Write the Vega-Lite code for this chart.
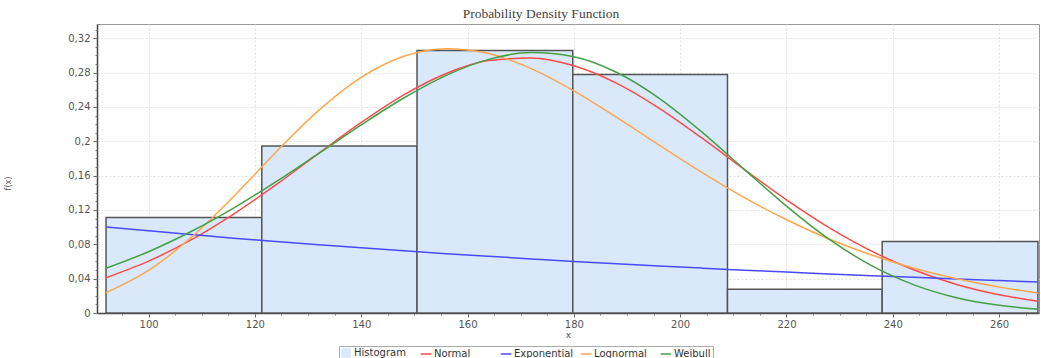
{
  "$schema": "https://vega.github.io/schema/vega-lite/v6.json",
  "width": 942,
  "height": 289,
  "autosize": {"type": "none"},
  "padding": {"left": 97, "top": 24, "right": 2, "bottom": 45},
  "background": "white",
  "title": {"text": "Probability Density Function", "font": "Liberation Serif", "fontSize": 13.5, "fontWeight": "normal", "color": "#444", "offset": 4, "dx": -27},
  "datasets": {
    "bars": [
      {"lo": 92.0, "hi": 121.3, "freq": 0.1111},
      {"lo": 121.3, "hi": 150.5, "freq": 0.1944},
      {"lo": 150.5, "hi": 179.8, "freq": 0.3056},
      {"lo": 179.8, "hi": 208.9, "freq": 0.2778},
      {"lo": 208.9, "hi": 238.0, "freq": 0.0278},
      {"lo": 238.0, "hi": 267.3, "freq": 0.0833}
    ],
    "curves": [
      {"dist": "Normal", "x": 92, "f": 0.0411}, {"dist": "Normal", "x": 100, "f": 0.0604}, {"dist": "Normal", "x": 108, "f": 0.0851}, {"dist": "Normal", "x": 116, "f": 0.1152}, {"dist": "Normal", "x": 124, "f": 0.1494}, {"dist": "Normal", "x": 132, "f": 0.1859}, {"dist": "Normal", "x": 140, "f": 0.2219}, {"dist": "Normal", "x": 148, "f": 0.2541}, {"dist": "Normal", "x": 156, "f": 0.2790}, {"dist": "Normal", "x": 164, "f": 0.2940}, {"dist": "Normal", "x": 172, "f": 0.2970}, {"dist": "Normal", "x": 180, "f": 0.2879}, {"dist": "Normal", "x": 188, "f": 0.2677}, {"dist": "Normal", "x": 196, "f": 0.2387}, {"dist": "Normal", "x": 204, "f": 0.2042}, {"dist": "Normal", "x": 212, "f": 0.1675}, {"dist": "Normal", "x": 220, "f": 0.1318}, {"dist": "Normal", "x": 228, "f": 0.0995}, {"dist": "Normal", "x": 236, "f": 0.0721}, {"dist": "Normal", "x": 244, "f": 0.0501}, {"dist": "Normal", "x": 252, "f": 0.0333}, {"dist": "Normal", "x": 260, "f": 0.0213}, {"dist": "Normal", "x": 267.3, "f": 0.0137},
      {"dist": "Exponential", "x": 92, "f": 0.1003}, {"dist": "Exponential", "x": 100, "f": 0.0957}, {"dist": "Exponential", "x": 108, "f": 0.0914}, {"dist": "Exponential", "x": 116, "f": 0.0872}, {"dist": "Exponential", "x": 124, "f": 0.0833}, {"dist": "Exponential", "x": 132, "f": 0.0795}, {"dist": "Exponential", "x": 140, "f": 0.0759}, {"dist": "Exponential", "x": 148, "f": 0.0724}, {"dist": "Exponential", "x": 156, "f": 0.0691}, {"dist": "Exponential", "x": 164, "f": 0.0660}, {"dist": "Exponential", "x": 172, "f": 0.0630}, {"dist": "Exponential", "x": 180, "f": 0.0601}, {"dist": "Exponential", "x": 188, "f": 0.0574}, {"dist": "Exponential", "x": 196, "f": 0.0548}, {"dist": "Exponential", "x": 204, "f": 0.0523}, {"dist": "Exponential", "x": 212, "f": 0.0499}, {"dist": "Exponential", "x": 220, "f": 0.0477}, {"dist": "Exponential", "x": 228, "f": 0.0455}, {"dist": "Exponential", "x": 236, "f": 0.0434}, {"dist": "Exponential", "x": 244, "f": 0.0415}, {"dist": "Exponential", "x": 252, "f": 0.0396}, {"dist": "Exponential", "x": 260, "f": 0.0378}, {"dist": "Exponential", "x": 267.3, "f": 0.0362},
      {"dist": "Lognormal", "x": 92, "f": 0.0236}, {"dist": "Lognormal", "x": 100, "f": 0.0496}, {"dist": "Lognormal", "x": 108, "f": 0.0879}, {"dist": "Lognormal", "x": 116, "f": 0.1358}, {"dist": "Lognormal", "x": 124, "f": 0.1876}, {"dist": "Lognormal", "x": 132, "f": 0.2360}, {"dist": "Lognormal", "x": 140, "f": 0.2745}, {"dist": "Lognormal", "x": 148, "f": 0.2990}, {"dist": "Lognormal", "x": 156, "f": 0.3079}, {"dist": "Lognormal", "x": 164, "f": 0.3022}, {"dist": "Lognormal", "x": 172, "f": 0.2846}, {"dist": "Lognormal", "x": 180, "f": 0.2587}, {"dist": "Lognormal", "x": 188, "f": 0.2280}, {"dist": "Lognormal", "x": 196, "f": 0.1957}, {"dist": "Lognormal", "x": 204, "f": 0.1640}, {"dist": "Lognormal", "x": 212, "f": 0.1346}, {"dist": "Lognormal", "x": 220, "f": 0.1086}, {"dist": "Lognormal", "x": 228, "f": 0.0862}, {"dist": "Lognormal", "x": 236, "f": 0.0675}, {"dist": "Lognormal", "x": 244, "f": 0.0521}, {"dist": "Lognormal", "x": 252, "f": 0.0399}, {"dist": "Lognormal", "x": 260, "f": 0.0302}, {"dist": "Lognormal", "x": 267.3, "f": 0.0233},
      {"dist": "Weibull", "x": 92, "f": 0.0521}, {"dist": "Weibull", "x": 100, "f": 0.0714}, {"dist": "Weibull", "x": 108, "f": 0.0949}, {"dist": "Weibull", "x": 116, "f": 0.1222}, {"dist": "Weibull", "x": 124, "f": 0.1529}, {"dist": "Weibull", "x": 132, "f": 0.1858}, {"dist": "Weibull", "x": 140, "f": 0.2191}, {"dist": "Weibull", "x": 148, "f": 0.2504}, {"dist": "Weibull", "x": 156, "f": 0.2768}, {"dist": "Weibull", "x": 164, "f": 0.2954}, {"dist": "Weibull", "x": 172, "f": 0.3033}, {"dist": "Weibull", "x": 180, "f": 0.2985}, {"dist": "Weibull", "x": 188, "f": 0.2804}, {"dist": "Weibull", "x": 196, "f": 0.2504}, {"dist": "Weibull", "x": 204, "f": 0.2113}, {"dist": "Weibull", "x": 212, "f": 0.1676}, {"dist": "Weibull", "x": 220, "f": 0.1245}, {"dist": "Weibull", "x": 228, "f": 0.0860}, {"dist": "Weibull", "x": 236, "f": 0.0552}, {"dist": "Weibull", "x": 244, "f": 0.0328}, {"dist": "Weibull", "x": 252, "f": 0.0178}, {"dist": "Weibull", "x": 260, "f": 0.0090}, {"dist": "Weibull", "x": 267.3, "f": 0.0045}
    ]
  },
  "layer": [
    {
      "data": {"name": "bars"},
      "mark": {"type": "rect", "fill": "#d9e9fb", "stroke": "#555", "strokeWidth": 1.5},
      "encoding": {
        "x": {"field": "lo", "type": "quantitative", "scale": {"domain": [90.3, 267.5], "nice": false, "zero": false},
              "axis": {"values": [100, 120, 140, 160, 180, 200, 220, 240, 260], "title": "x", "titleFontSize": 9, "titleFontWeight": "normal", "titleColor": "#555", "titlePadding": 1, "grid": true, "gridColor": "#e2e2e2", "gridDash": [2, 2], "tickSize": 4, "labelFontSize": 10, "labelColor": "#555", "labelPadding": 2, "domainColor": "#444", "domainWidth": 1.5, "tickColor": "#666"}},
        "x2": {"field": "hi"},
        "y": {"field": "freq", "type": "quantitative", "scale": {"domain": [0, 0.3366], "nice": false},
              "axis": {"values": [0, 0.04, 0.08, 0.12, 0.16, 0.2, 0.24, 0.28, 0.32], "labelExpr": "replace(format(datum.value, '.2~f'), '.', ',')", "title": "f(x)", "titleFontSize": 8, "titleFontWeight": "normal", "titleColor": "#555", "titleX": -85, "titleY": 159, "grid": true, "gridColor": "#e2e2e2", "gridDash": [2, 2], "tickSize": 4, "labelFontSize": 10, "labelColor": "#555", "labelPadding": 3, "domainColor": "#444", "domainWidth": 1.5, "tickColor": "#666"}},
        "y2": {"datum": 0}
      }
    },
    {
      "data": {"name": "curves"},
      "mark": {"type": "line", "strokeWidth": 1.5, "interpolate": "monotone"},
      "encoding": {
        "x": {"field": "x", "type": "quantitative",
              "axis": {"orient": "bottom", "values": [90, 95, 100, 105, 110, 115, 120, 125, 130, 135, 140, 145, 150, 155, 160, 165, 170, 175, 180, 185, 190, 195, 200, 205, 210, 215, 220, 225, 230, 235, 240, 245, 250, 255, 260, 265], "labels": false, "grid": false, "domain": false, "title": null, "tickSize": 2, "tickColor": "#777"}},
        "y": {"field": "f", "type": "quantitative",
              "axis": {"orient": "left", "values": [0, 0.01, 0.02, 0.03, 0.04, 0.05, 0.06, 0.07, 0.08, 0.09, 0.1, 0.11, 0.12, 0.13, 0.14, 0.15, 0.16, 0.17, 0.18, 0.19, 0.2, 0.21, 0.22, 0.23, 0.24, 0.25, 0.26, 0.27, 0.28, 0.29, 0.3, 0.31, 0.32, 0.33], "labels": false, "grid": false, "domain": false, "title": null, "tickSize": 2, "tickColor": "#777"}},
        "color": {"field": "dist", "type": "nominal",
                  "scale": {"domain": ["Histogram", "Normal", "Exponential", "Lognormal", "Weibull"], "range": ["#d9e9fb", "#ff4a4a", "#4a4aff", "#ffa64d", "#45a045"]},
                  "legend": {"orient": "none", "legendX": 242, "legendY": 322, "direction": "horizontal", "columns": 5, "gridAlign": "all", "title": null, "symbolType": "stroke", "symbolSize": 110, "symbolStrokeWidth": 1.5, "labelFont": "DejaVu Sans", "labelFontSize": 10, "labelColor": "#333", "labelOffset": 3, "columnPadding": 3, "strokeColor": "#aaa", "fillColor": "white", "padding": 2,
                             "encode": {"symbols": {"update": {
                               "shape": {"signal": "datum.value === 'Histogram' ? 'square' : 'stroke'"},
                               "size": {"signal": "datum.value === 'Histogram' ? 64 : 110"},
                               "strokeWidth": {"signal": "datum.value === 'Histogram' ? 1.5 : 1.5"},
                               "fill": {"signal": "datum.value === 'Histogram' ? '#d9e9fb' : 'transparent'"},
                               "stroke": {"signal": "datum.value === 'Histogram' ? '#333' : scale('color', datum.value)"},
                               "strokeOpacity": {"value": 1}
                             }}}}}
      }
    }
  ],
  "resolve": {"axis": {"x": "independent", "y": "independent"}},
  "config": {
    "view": {"stroke": "#999"},
    "font": "DejaVu Sans"
  }
}
